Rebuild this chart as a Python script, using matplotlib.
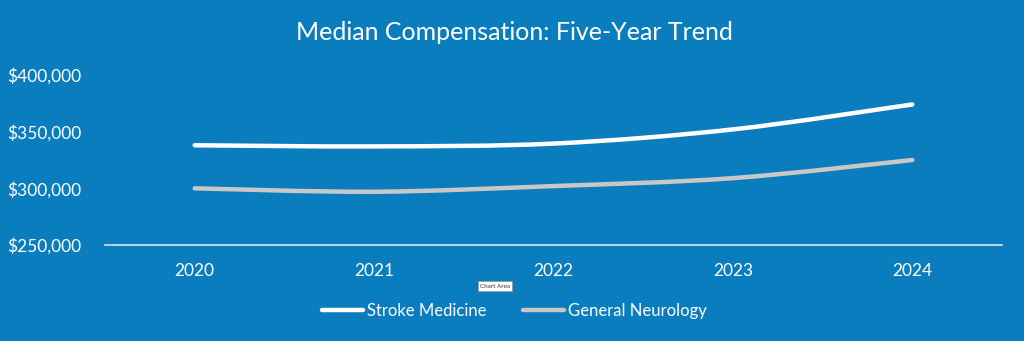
import numpy as np
import matplotlib.pyplot as plt
from matplotlib.path import Path
from matplotlib.patches import PathPatch
from matplotlib.lines import Line2D
from matplotlib.ticker import FuncFormatter

years = ["2020", "2021", "2022", "2023", "2024"]
stroke = [338000, 337000, 339500, 352000, 374000]
general = [300000, 297000, 302000, 309000, 325000]

bg = "#0A7DBE"
font = ["Lato", "DejaVu Sans"]
plt.rcParams["font.family"] = font


def smooth_path(xs, ys, t=1 / 6):
    # Catmull-Rom style bezier through the points (like Excel's smoothed line)
    pts = np.column_stack([xs, ys]).astype(float)
    verts = [pts[0]]
    codes = [Path.MOVETO]
    n = len(pts)
    for i in range(n - 1):
        p0 = pts[i - 1] if i > 0 else pts[i]
        p1, p2 = pts[i], pts[i + 1]
        p3 = pts[i + 2] if i + 2 < n else pts[i + 1]
        c1 = p1 + (p2 - p0) * t
        c2 = p2 - (p3 - p1) * t
        verts += [c1, c2, p2]
        codes += [Path.CURVE4] * 3
    return Path(verts, codes)


fig = plt.figure(figsize=(10.24, 3.41), dpi=100, facecolor=bg)
ax = fig.add_axes([105 / 1024, 1 - 245 / 341, 897 / 1024, 170 / 341])
ax.set_facecolor(bg)

x = np.arange(len(years))
series = [("Stroke Medicine", stroke, "white"), ("General Neurology", general, "#C8C8C8")]
handles = []
for name, vals, col in series:
    patch = PathPatch(smooth_path(x, vals), fill=False, edgecolor=col, lw=3.2,
                      capstyle="round", joinstyle="round", zorder=3)
    ax.add_patch(patch)
    handles.append(Line2D([], [], color=col, lw=3.2, solid_capstyle="round", label=name))

ax.set_xlim(-0.5, len(years) - 0.5)
ax.set_ylim(250000, 400000)
ax.set_yticks([250000, 300000, 350000, 400000])
ax.yaxis.set_major_formatter(FuncFormatter(lambda v, p: f"${v:,.0f}"))
ax.set_xticks(x)
ax.set_xticklabels(years)

for s in ["top", "right", "left"]:
    ax.spines[s].set_visible(False)
ax.spines["bottom"].set_color("#D6E6F2")
ax.spines["bottom"].set_linewidth(1.2)
ax.tick_params(axis="both", length=0, colors="white", labelsize=12.5)
ax.tick_params(axis="y", pad=17)
ax.tick_params(axis="x", pad=13)

fig.text(0.502, 0.905, "Median Compensation: Five-Year Trend", ha="center", va="center",
         color="white", fontsize=18)

leg = fig.legend(handles=handles, loc="center", bbox_to_anchor=(0.502, 1 - 311 / 341),
                 ncol=2, frameon=False, fontsize=12, handlelength=2.5, handletextpad=0.2,
                 columnspacing=2.2)
for t in leg.get_texts():
    t.set_color("white")

# hover tooltip left over from the spreadsheet editor
fig.text(495 / 1024, 1 - 286 / 341, "Chart Area", ha="center", va="center", fontsize=4.5,
         color="#333333",
         bbox=dict(boxstyle="square,pad=0.35", fc="white", ec="#999999", lw=0.6))

fig.savefig("out.png", dpi=100, facecolor=bg)
